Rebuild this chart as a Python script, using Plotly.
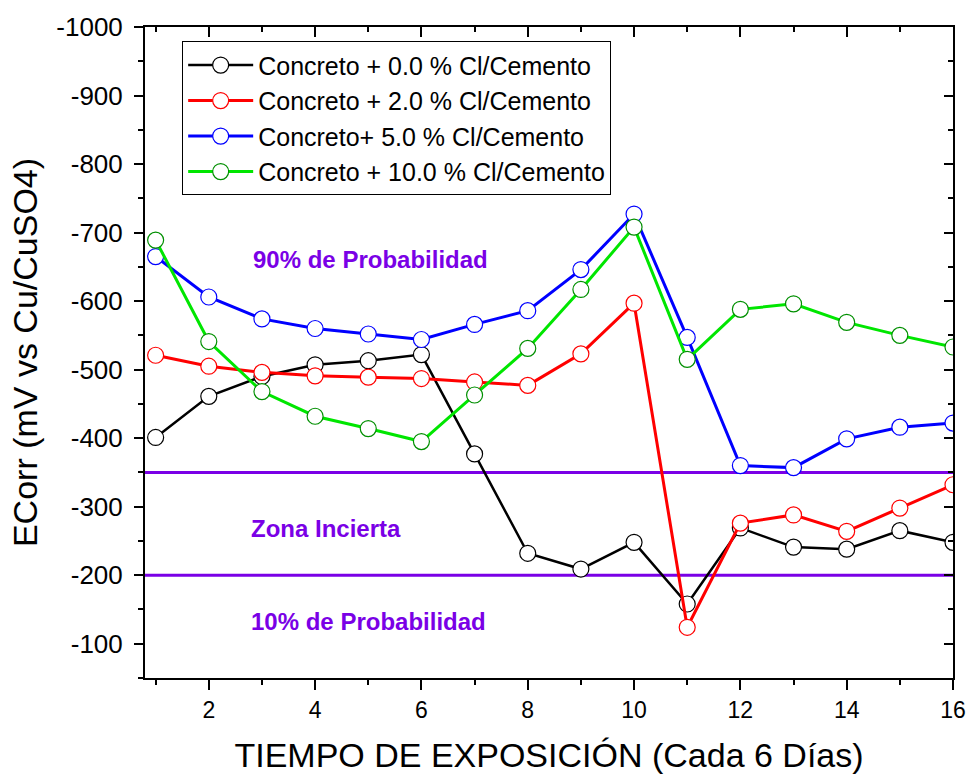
import plotly.graph_objects as go

# Exposure periods (each period = 6 days)
periods = list(range(1, 17))

# Corrosion potential, mV vs Cu/CuSO4
ecorr_00 = [-401, -461, -490, -507, -513, -522, -377, -232, -209, -248, -158, -269, -241, -238, -265, -248]
ecorr_20 = [-521, -505, -496, -491, -489, -487, -482, -477, -523, -597, -124, -276, -288, -264, -298, -332]
ecorr_50 = [-665, -606, -574, -560, -552, -544, -566, -586, -646, -727, -547, -360, -357, -399, -416, -422]
ecorr_100 = [-689, -541, -468, -432, -414, -395, -463, -531, -617, -708, -515, -588, -596, -569, -550, -533]

series_names = [
    "Concreto + 0.0 % Cl/Cemento",
    "Concreto + 2.0 % Cl/Cemento",
    "Concreto+ 5.0 % Cl/Cemento",
    "Concreto + 10.0 % Cl/Cemento",
]
line_colors = ["#000000", "#FF0000", "#0000FF", "#00E600"]
edge_colors = ["#000000", "#FF0000", "#0000FF", "#008F00"]
line_widths = [2.5, 3, 3, 3]

# y tick values and their labels (plain hyphen minus)
y_tickvals = [-1000, -900, -800, -700, -600, -500, -400, -300, -200, -100]
y_ticktext = ["-1000", "-900", "-800", "-700", "-600", "-500", "-400", "-300", "-200", "-100"]

# ASTM C876 thresholds
limit_high = -350
limit_low = -200

purple = "#7A00E6"
font_family = "Liberation Sans, Arial, sans-serif"

x_range = [0.8, 16]
y_range = [-50, -1000]

fig = go.Figure()

for name, vals, lc, ec, lw in zip(series_names, [ecorr_00, ecorr_20, ecorr_50, ecorr_100],
                                  line_colors, edge_colors, line_widths):
    fig.add_trace(go.Scatter(
        x=periods, y=vals, name=name, mode="lines+markers",
        line=dict(color=lc, width=lw),
        marker=dict(symbol="circle", size=16, color="white",
                    line=dict(color=ec, width=1.2)),
    ))

# Probability zone limits
for lvl in (limit_high, limit_low):
    fig.add_shape(type="line", xref="paper", x0=0, x1=1, yref="y", y0=lvl, y1=lvl,
                  line=dict(color=purple, width=3), layer="below")

zone_labels = [
    ("90% de Probabilidad", 5.05, -660),
    ("Zona Incierta", 4.2, -268),
    ("10% de Probabilidad", 5.0, -132),
]
for txt, xa, ya in zone_labels:
    fig.add_annotation(x=xa, y=ya, text=f"<b>{txt}</b>", showarrow=False,
                       font=dict(family=font_family, size=24, color=purple))

common_axis = dict(showline=True, linecolor="black", linewidth=2, showgrid=False,
                   zeroline=False, ticks="outside", tickcolor="black", tickwidth=2,
                   automargin=False)

fig.update_layout(
    width=971, height=778,
    margin=dict(l=145, r=18, t=27, b=100),
    paper_bgcolor="white", plot_bgcolor="white",
    showlegend=True,
    legend=dict(x=0.046, y=0.978, xanchor="left", yanchor="top",
                bgcolor="white", bordercolor="black", borderwidth=1,
                font=dict(family=font_family, size=25, color="black"),
                itemwidth=65, tracegroupgap=0),
    xaxis=dict(**common_axis, range=x_range, dtick=2, tick0=0, ticklen=10,
               minor=dict(dtick=1, tick0=0, ticks="outside", ticklen=5, tickcolor="black", tickwidth=2),
               tickfont=dict(family=font_family, size=23, color="black"),
               title=dict(text="TIEMPO DE EXPOSICIÓN (Cada 6 Días)", standoff=22,
                          font=dict(family=font_family, size=34, color="black"))),
    yaxis=dict(**common_axis, range=y_range, tickmode="array", tickvals=y_tickvals,
               ticktext=y_ticktext, ticklen=9, ticklabelstandoff=6,
               minor=dict(dtick=50, ticks="outside", ticklen=5, tickcolor="black", tickwidth=2),
               tickfont=dict(family=font_family, size=26, color="black"),
               title=dict(text="ECorr (mV vs Cu/CuSO4)", standoff=8,
                          font=dict(family=font_family, size=34, color="black"))),
    xaxis2=dict(overlaying="x", side="top", range=x_range, showline=True, linecolor="black",
                linewidth=2, showgrid=False, zeroline=False, ticks="inside", ticklen=10,
                tickcolor="black", tickwidth=2, dtick=2, tick0=0, showticklabels=False,
                automargin=False,
                minor=dict(dtick=1, tick0=0, ticks="inside", ticklen=5, tickcolor="black", tickwidth=2)),
    yaxis2=dict(overlaying="y", side="right", range=y_range, showline=True, linecolor="black",
                linewidth=2, showgrid=False, zeroline=False, ticks="inside", ticklen=9,
                tickcolor="black", tickwidth=2, dtick=100, showticklabels=False,
                automargin=False,
                minor=dict(dtick=50, ticks="inside", ticklen=5, tickcolor="black", tickwidth=2)),
)

# Invisible trace so the mirrored frame axes are drawn
fig.add_trace(go.Scatter(x=[x_range[0]], y=[y_range[0]], xaxis="x2", yaxis="y2",
                         mode="markers", marker=dict(opacity=0), showlegend=False,
                         hoverinfo="skip"))

fig.write_html("out.html")
